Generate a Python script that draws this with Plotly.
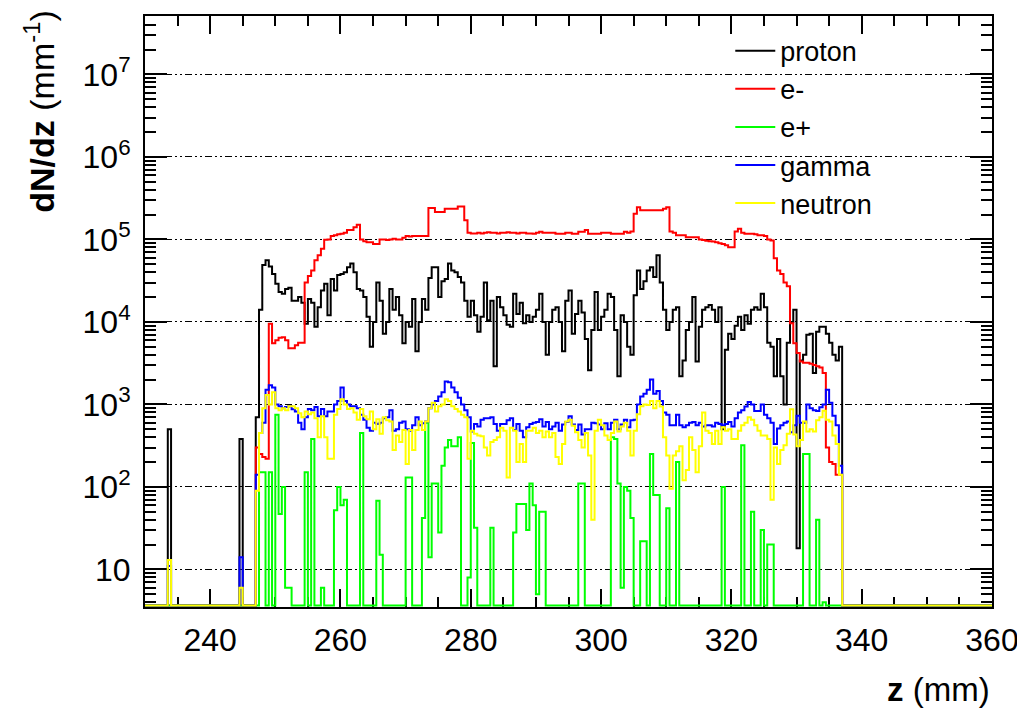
import numpy as np
import plotly.graph_objects as go

# ---------------- data (dN/dz per 0.5 mm bin) ----------------
BIN_WIDTH = 0.5
Z_LOW, Z_HIGH = 230.0, 360.0
DATA_START = 247.0          # first bin of the main block (180 bins of 0.5 mm)

proton = [
    700, 14000, 49000, 56000, 47000, 38000, 29000, 23000, 22000, 25000,
    26000, 18000, 18000, 20000, 17000, 9500, 19000, 17000, 8700, 15000,
    24000, 29000, 12000, 33000, 24000, 37000, 38000, 40000, 46000, 51000,
    40000, 25000, 24000, 20000, 11500, 5000, 10000, 30000, 18000, 7200,
    10000, 25000, 14000, 20000, 12000, 5500, 10000, 8700, 19000, 4400,
    10000, 19000, 14000, 34000, 46000, 46000, 20000, 31000, 33000, 51000,
    42000, 40000, 35000, 30000, 18000, 11500, 18000, 12000, 7600, 11500,
    30000, 10500, 18000, 2900, 20000, 15000, 12000, 9200, 8700, 22000,
    12500, 17000, 9600, 12000, 10000, 11500, 14000, 22000, 10000, 4000,
    10000, 14000, 15000, 10000, 4400, 18000, 24000, 7200, 12500, 18000,
    13000, 6200, 2600, 8000, 23000, 8000, 11500, 14000, 22000, 20000,
    8000, 2200, 12000, 10000, 5000, 4000, 21000, 42000, 25000, 31000,
    42000, 46000, 35000, 64000, 30000, 14000, 8000, 10000, 14000, 15000,
    2200, 3400, 8000, 10000, 20000, 3300, 8700, 14000, 15000, 16000,
    14000, 10000, 15000, 500, 4600, 7200, 6200, 9000, 11500, 8000,
    12000, 9500, 14000, 15000, 14000, 22000, 15000, 5600, 5000, 2200,
    6200, 2200, 1000, 5600, 10000, 14000, 18, 3400, 4000, 7000,
    7200, 2400, 7600, 8700, 8700, 7200, 5600, 4000, 3400, 5000,
]

electron = [
    300, 250, 230, 220, 9500, 5500, 6000, 6400, 6500, 6000,
    4800, 4800, 5200, 5600, 5600, 30000, 36000, 42000, 56000, 64000,
    77000, 99000, 100000, 110000, 112000, 115000, 117000, 120000, 130000, 130000,
    140000, 150000, 100000, 95000, 92000, 92000, 88000, 88000, 100000, 100000,
    98000, 100000, 102000, 100000, 100000, 105000, 110000, 108000, 110000, 110000,
    110000, 110000, 110000, 240000, 240000, 215000, 215000, 215000, 235000, 235000,
    235000, 235000, 250000, 250000, 170000, 120000, 118000, 118000, 120000, 118000,
    120000, 122000, 120000, 120000, 118000, 120000, 120000, 122000, 120000, 120000,
    118000, 120000, 120000, 118000, 118000, 117000, 120000, 124000, 120000, 120000,
    120000, 120000, 117000, 117000, 117000, 120000, 120000, 117000, 117000, 124000,
    124000, 130000, 117000, 117000, 117000, 117000, 120000, 120000, 120000, 117000,
    117000, 117000, 117000, 124000, 120000, 125000, 205000, 245000, 225000, 225000,
    225000, 225000, 225000, 225000, 225000, 235000, 245000, 125000, 120000, 112000,
    112000, 112000, 106000, 106000, 106000, 106000, 100000, 98000, 96000, 95000,
    94000, 92000, 90000, 88000, 85000, 80000, 80000, 125000, 135000, 120000,
    117000, 117000, 117000, 115000, 112000, 112000, 110000, 100000, 97000, 59000,
    42000, 38000, 30000, 27000, 9600, 5500, 4200, 3300, 3200, 3200,
    3100, 3000, 2900, 2800, 2400, 300, 200, 190, 140, 140,
]

positron = [
    0, 150, 150, 0, 150, 0, 750, 47, 100, 6,
    6, 0, 0, 0, 0, 150, 0, 380, 0, 0,
    6, 0, 0, 0, 52, 100, 60, 70, 0, 0,
    0, 0, 450, 0, 0, 0, 0, 68, 15, 0,
    0, 0, 0, 0, 0, 0, 130, 130, 0, 0,
    0, 42, 600, 14, 110, 110, 28, 180, 300, 370,
    310, 310, 400, 0, 0, 8, 340, 32, 0, 0,
    0, 0, 32, 0, 0, 0, 0, 0, 0, 28,
    62, 62, 62, 30, 110, 60, 5, 50, 50, 0,
    0, 0, 0, 0, 0, 0, 0, 0, 0, 110,
    110, 0, 0, 0, 0, 0, 0, 0, 0, 400,
    380, 110, 6, 100, 90, 42, 0, 0, 22, 22,
    0, 250, 80, 80, 0, 0, 55, 0, 0, 200,
    0, 0, 0, 0, 0, 0, 0, 0, 0, 0,
    0, 0, 0, 100, 0, 0, 0, 0, 0, 320,
    0, 0, 50, 0, 0, 30, 0, 20, 20, 0,
    0, 0, 0, 0, 0, 0, 0, 0, 250, 250,
    0, 0, 40, 0, 4, 0, 0, 0, 0, 0,
]

gamma = [
    140, 450, 600, 1500, 1700, 1600, 1000, 950, 900, 930,
    950, 870, 820, 600, 500, 700, 880, 850, 930, 720,
    880, 720, 820, 820, 1000, 1100, 1600, 1100, 1000, 950,
    950, 900, 750, 650, 520, 480, 600, 580, 600, 680,
    700, 850, 480, 500, 600, 620, 500, 480, 560, 700,
    560, 590, 620, 900, 1000, 1100, 1250, 1400, 1900, 1850,
    1600, 1400, 1200, 1000, 850, 700, 470, 580, 540, 650,
    680, 680, 700, 580, 480, 580, 580, 640, 680, 490,
    580, 480, 400, 530, 580, 600, 610, 660, 540, 610,
    500, 540, 600, 480, 570, 610, 720, 570, 490, 570,
    430, 500, 500, 600, 590, 570, 500, 590, 500, 600,
    650, 500, 570, 650, 530, 640, 650, 1000, 1250, 1350,
    1500, 2000, 1350, 1450, 1100, 800, 750, 560, 560, 750,
    560, 530, 560, 600, 610, 560, 600, 540, 560, 560,
    540, 600, 580, 560, 580, 610, 540, 680, 800, 850,
    940, 1070, 1000, 830, 830, 1000, 750, 680, 600, 330,
    510, 560, 600, 620, 460, 560, 730, 600, 600, 1000,
    900, 850, 830, 920, 1000, 1500, 1050, 730, 560, 180,
]

neutron = [
    90, 450, 900, 1300, 1000, 1400, 900, 850, 900, 850,
    950, 950, 900, 780, 700, 820, 760, 800, 680, 400,
    720, 400, 220, 220, 750, 880, 1150, 1000, 880, 900,
    800, 650, 880, 720, 660, 820, 500, 660, 440, 700,
    640, 620, 280, 420, 350, 490, 190, 490, 280, 490,
    620, 490, 620, 900, 1050, 820, 950, 1000, 1150, 1100,
    950, 880, 820, 750, 700, 220, 480, 440, 420, 410,
    300, 240, 350, 370, 400, 520, 480, 130, 520, 480,
    200, 330, 200, 480, 480, 520, 450, 480, 400, 470,
    400, 450, 230, 190, 330, 620, 650, 550, 460, 370,
    300, 450, 240, 40, 480, 650, 560, 420, 370, 450,
    620, 470, 540, 600, 480, 240, 480, 760, 950, 1000,
    980, 1100, 900, 1100, 940, 400, 240, 95, 240, 270,
    310, 120, 160, 400, 280, 150, 310, 800, 480, 450,
    330, 480, 330, 530, 480, 500, 380, 380, 480, 560,
    600, 700, 650, 560, 480, 420, 420, 380, 70, 300,
    190, 280, 320, 440, 870, 430, 310, 370, 620, 470,
    500, 470, 640, 700, 840, 650, 620, 420, 330, 140,
]

# isolated early bins (lower edge in mm) and their contents
spike_z = [233.5, 244.5]
spike_proton = [500, 380]
spike_electron = [0, 0]
spike_positron = [0, 0]
spike_gamma = [11, 14]
spike_neutron = [13, 6]

series_names = ["proton", "e-", "e+", "gamma", "neutron"]
series_colors = ["#000000", "#ff0000", "#00ff00", "#0000ff", "#ffff00"]

y_tick_vals = [1e1, 1e2, 1e3, 1e4, 1e5, 1e6, 1e7]
y_tick_text = ["10", "10<sup>2</sup>", "10<sup>3</sup>", "10<sup>4</sup>",
               "10<sup>5</sup>", "10<sup>6</sup>", "10<sup>7</sup>"]

Y_MIN, Y_MAX = 3.5, 5.1e7

# ---------------- build histograms ----------------
n_bins = int(round((Z_HIGH - Z_LOW) / BIN_WIDTH))
edges = Z_LOW + BIN_WIDTH * np.arange(n_bins + 1)
start_idx = int(round((DATA_START - Z_LOW) / BIN_WIDTH))


def full_hist(main, spikes):
    h = np.zeros(n_bins)
    h[start_idx:start_idx + len(main)] = main
    for z, v in zip(spike_z, spikes):
        h[int(round((z - Z_LOW) / BIN_WIDTH))] = v
    # empty bins are drawn on the frame floor (as ROOT does on log axes)
    h = np.where(h > 0, h, Y_MIN * 1.04)
    return np.append(h, h[-1])


all_main = [proton, electron, positron, gamma, neutron]
all_spikes = [spike_proton, spike_electron, spike_positron, spike_gamma, spike_neutron]
for m in all_main:
    assert len(m) == 180, len(m)

fig = go.Figure()
for name, col, m, s in zip(series_names, series_colors, all_main, all_spikes):
    fig.add_trace(go.Scatter(
        x=edges, y=full_hist(m, s), mode="lines", name=name,
        legendgroup=name,
        line=dict(color=col, width=2, shape="hv"),
    ))

FONT = "Liberation Sans, Arial, sans-serif"

minor_y = [k * 10 ** e for e in range(0, 8) for k in range(2, 10)]

fig.update_xaxes(
    range=[Z_LOW, Z_HIGH], showgrid=False, zeroline=False,
    showline=True, linecolor="black", linewidth=2, mirror="ticks",
    ticks="inside", ticklen=18, tickwidth=1.5, tickcolor="black",
    tick0=0, dtick=20,
    minor=dict(ticks="inside", ticklen=10, tickwidth=1.5, tickcolor="black",
               tick0=0, dtick=5, showgrid=False),
    tickfont=dict(family=FONT, size=32, color="black"),
    ticklabelstandoff=4,
    layer="below traces",
)
fig.update_yaxes(
    type="log", range=[np.log10(Y_MIN), np.log10(Y_MAX)],
    showline=True, linecolor="black", linewidth=2, mirror="ticks",
    ticks="inside", ticklen=22, tickwidth=1.5, tickcolor="black",
    tickmode="array", tickvals=y_tick_vals, ticktext=y_tick_text,
    minor=dict(ticks="inside", ticklen=11, tickwidth=1.5, tickcolor="black",
               tickmode="array", tickvals=minor_y, showgrid=False),
    showgrid=True, gridcolor="black", gridwidth=1,
    griddash="7px,3px,2px,3px,2px,3px",
    zeroline=False,
    tickfont=dict(family=FONT, size=32, color="black"),
    ticklabelstandoff=6,
    layer="below traces",
)

# white legend box hiding the grid behind it
fig.add_shape(type="rect", xref="paper", yref="paper",
              x0=0.675, x1=0.997, y0=0.645, y1=0.975,
              fillcolor="white", line=dict(width=0), layer="between")

fig.add_annotation(
    text="<b>dN/dz</b> (mm<sup>-1</sup>)", textangle=-90,
    xref="paper", yref="paper", x=-0.124, y=0.838,
    xanchor="center", yanchor="middle", showarrow=False,
    font=dict(family=FONT, size=34, color="black"),
)
fig.add_annotation(
    text="<b>z</b> (mm)",
    xref="paper", yref="paper", x=1.0, y=-0.14,
    xanchor="right", yanchor="middle", showarrow=False,
    font=dict(family=FONT, size=33, color="black"),
)

# the page body adds an 8 px offset, so the figure is drawn 8 px smaller
fig.update_layout(
    width=1017, height=703,
    margin=dict(l=137, r=33, t=6, b=104),
    paper_bgcolor="white", plot_bgcolor="white",
    showlegend=True,
    legend=dict(
        x=0.691, y=0.982, xanchor="left", yanchor="top",
        bgcolor="rgba(0,0,0,0)", borderwidth=0,
        font=dict(family=FONT, size=27, color="black"),
        tracegroupgap=0, itemwidth=40,
    ),
)

fig.write_html("out.html")
